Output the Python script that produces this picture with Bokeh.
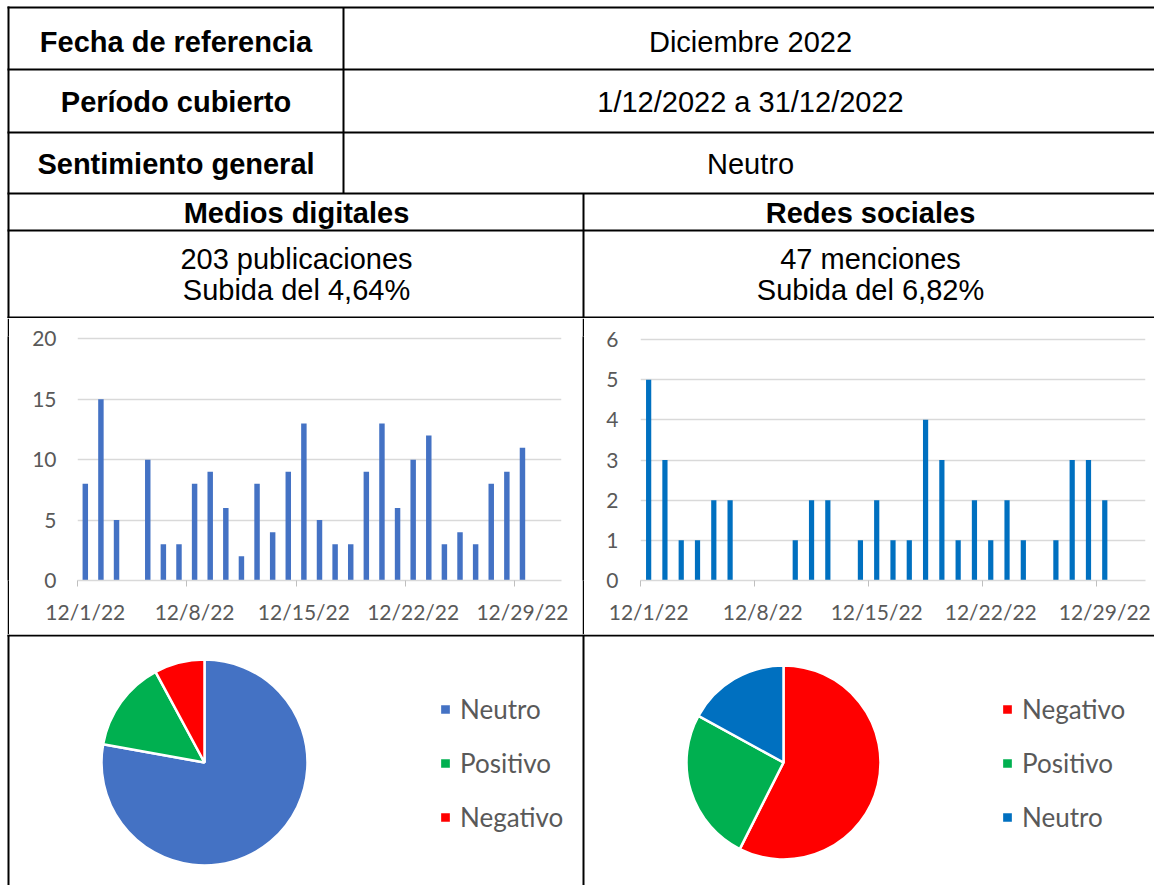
import math
from bokeh.plotting import figure
from bokeh.layouts import row, column
from bokeh.models import Range1d, FixedTicker, LinearAxis, ColumnDataSource, Legend, LegendItem
from bokeh.embed import file_html
from bokeh.resources import INLINE
from bokeh.core.properties import value

# ---------------- data ----------------
dias = list(range(1, 32))
medios_digitales = [8, 15, 5, 0, 10, 3, 3, 8, 9, 6, 2, 8, 4, 9, 13, 5, 3, 3, 9, 13,
                    6, 10, 12, 3, 4, 3, 8, 9, 11, 0, 0]
redes_sociales = [5, 3, 1, 1, 2, 2, 0, 0, 0, 1, 2, 2, 0, 1, 2, 1, 1, 4, 3, 1,
                  2, 1, 2, 1, 0, 1, 3, 3, 2, 0, 0]
tick_dias = [1, 8, 15, 22, 29]
tick_labels = ["12/1/22", "12/8/22", "12/15/22", "12/22/22", "12/29/22"]
ticks_md = [0, 5, 10, 15, 20]
ticks_rs = [0, 1, 2, 3, 4, 5, 6]

sent_md_labels = ["Neutro", "Positivo", "Negativo"]
sent_md_counts = [158, 29, 16]
sent_md_colors = ["#4472C4", "#00B050", "#FF0000"]
sent_rs_labels = ["Negativo", "Positivo", "Neutro"]
sent_rs_counts = [27, 12, 8]
sent_rs_colors = ["#FF0000", "#00B050", "#0070C0"]

campos = ["Fecha de referencia", "Período cubierto", "Sentimiento general"]
valores = ["Diciembre 2022", "1/12/2022 a 31/12/2022", "Neutro"]
secciones = ["Medios digitales", "Redes sociales"]
resumen_1 = ["203 publicaciones", "47 menciones"]
resumen_2 = ["Subida del 4,64%", "Subida del 6,82%"]

AX_FONT = "Lato"
AX_COLOR = "#595959"
GRID = "#D9D9D9"
TFONT = "Liberation Sans"
TSIZE = "29px"


def base_fig(w, h, **kw):
    return figure(width=w, height=h, output_backend="svg", toolbar_location=None,
                  tools="", outline_line_color=None, **kw)


# ---------------- top table ----------------
top = base_fig(1154, 318, x_range=Range1d(0, 1154), y_range=Range1d(318, 0),
               x_axis_type=None, y_axis_type=None, min_border=0)
hy = [7, 69, 132, 193, 230, 317]
top.segment(x0=[7] * len(hy), x1=[1154] * len(hy), y0=hy, y1=hy, line_color="black", line_width=2)
top.segment(x0=[8, 343, 583], x1=[8, 343, 583], y0=[6, 7, 193], y1=[318, 193, 318],
            line_color="black", line_width=2)
top.text(x=[175.5] * 3, y=[41, 101, 163], text=campos, text_font=value(TFONT),
         text_font_style="bold", text_font_size=TSIZE, text_align="center",
         text_baseline="middle", text_color="black")
top.text(x=[750] * 3, y=[41, 101, 163], text=valores, text_font=value(TFONT),
         text_font_size=TSIZE, text_align="center", text_baseline="middle", text_color="black")
top.text(x=[296, 870], y=[212, 212], text=secciones, text_font=value(TFONT),
         text_font_style="bold", text_font_size=TSIZE, text_align="center",
         text_baseline="middle", text_color="black")
top.text(x=[296, 870, 296, 870], y=[258, 258, 289, 289], text=resumen_1 + resumen_2,
         text_font=value(TFONT), text_font_size=TSIZE, text_align="center",
         text_baseline="middle", text_color="black")


# ---------------- bar charts ----------------
def bar_chart(vals, color, w, bl, br, bt, bb, ymax, yticks, bar_w, ystand):
    p = base_fig(w, 316, x_range=Range1d(0.5, 31.5), y_range=Range1d(0, ymax),
                 min_border_left=bl, min_border_right=br, min_border_top=bt, min_border_bottom=bb)
    p.vbar(x=dias, top=vals, width=bar_w, fill_color=color, line_color=None)
    p.xgrid.visible = False
    p.ygrid.ticker = FixedTicker(ticks=yticks)
    p.ygrid.grid_line_color = GRID
    p.ygrid.grid_line_width = 1.5
    ya = p.yaxis[0]
    ya.ticker = FixedTicker(ticks=yticks)
    ya.axis_line_color = None
    ya.major_tick_line_color = None
    ya.minor_tick_line_color = None
    ya.major_tick_out = 0
    ya.major_tick_in = 0
    ya.major_label_standoff = ystand
    ya.major_label_text_font = AX_FONT
    ya.major_label_text_font_size = "21px"
    ya.major_label_text_color = AX_COLOR
    xa = p.xaxis[0]
    bounds = [d - 0.5 for d in tick_dias]
    xa.ticker = FixedTicker(ticks=bounds)
    xa.major_label_overrides = {b: "" for b in bounds}
    xa.major_label_text_font_size = "0px"
    xa.major_label_standoff = 0
    xa.axis_line_color = GRID
    xa.axis_line_width = 1.5
    xa.major_tick_line_color = "#BFBFBF"
    xa.major_tick_out = 6
    xa.major_tick_in = 0
    xa.minor_tick_line_color = None
    xl = LinearAxis(ticker=FixedTicker(ticks=tick_dias),
                    major_label_overrides={d: lab for d, lab in zip(tick_dias, tick_labels)},
                    axis_line_color=None, major_tick_line_color=None, minor_tick_line_color=None,
                    major_tick_out=0, major_tick_in=0, major_label_standoff=12,
                    major_label_text_font=AX_FONT, major_label_text_font_size="21px",
                    major_label_text_color=AX_COLOR)
    p.add_layout(xl, "below")
    return p


c1 = bar_chart(medios_digitales, "#4472C4", 573, 68, 21, 17, 52, 20.2, ticks_md, 0.35, 21)
c2 = bar_chart(redes_sociales, "#0070C0", 570, 56, 9, 18, 54, 6.075, ticks_rs, 0.32, 22)

white_strip = base_fig(7, 316, x_axis_type=None, y_axis_type=None, min_border=0,
                       background_fill_color="white", border_fill_color="white")
left_strip = base_fig(2, 316, x_axis_type=None, y_axis_type=None, min_border=0,
                      background_fill_color="black", border_fill_color="black")
mid_strip = base_fig(2, 316, x_axis_type=None, y_axis_type=None, min_border=0,
                     background_fill_color="black", border_fill_color="black")

# ---------------- pies ----------------
pies = base_fig(1154, 251, x_range=Range1d(0, 1154), y_range=Range1d(0, 251),
                x_axis_type=None, y_axis_type=None, min_border=0)
pies.segment(x0=[7, 8, 583], x1=[1154, 8, 583], y0=[250, 0, 0], y1=[250, 251, 251],
             line_color="black", line_width=2)


def wedge_angles(counts):
    total = float(sum(counts))
    starts, ends, acc = [], [], 0
    for c in counts:
        starts.append(math.pi / 2 - 2 * math.pi * acc / total)
        acc += c
        ends.append(math.pi / 2 - 2 * math.pi * acc / total)
    return starts, ends


def pie(cx, cy, r, labels, counts, colors, lx, ly):
    s, e = wedge_angles(counts)
    src = ColumnDataSource(dict(label=labels, count=counts, color=colors, start=s, end=e,
                                x=[cx] * len(labels), y=[cy] * len(labels)))
    rend = pies.wedge(x="x", y="y", radius=r, radius_units="screen", start_angle="start",
                      end_angle="end", direction="clock", fill_color="color",
                      line_color="white", line_width=2.5, source=src)
    items = [LegendItem(label=lab, renderers=[rend], index=i) for i, lab in enumerate(labels)]
    leg = Legend(items=items, location=(lx, ly), orientation="vertical",
                 glyph_width=14, glyph_height=14, label_height=30, spacing=22,
                 label_standoff=8, padding=0, margin=0, border_line_color=None,
                 background_fill_alpha=0, label_text_font=AX_FONT,
                 label_text_font_size="26px", label_text_color=AX_COLOR)
    pies.add_layout(leg, "center")


pie(204, 885 - 762, 103, sent_md_labels, sent_md_counts, sent_md_colors, 438, 52.5)
pie(783, 885 - 762, 97, sent_rs_labels, sent_rs_counts, sent_rs_colors, 1000, 52.5)

layout = column(top, row(white_strip, left_strip, c1, mid_strip, c2), pies)

open("out.html", "w").write(file_html(layout, INLINE))
